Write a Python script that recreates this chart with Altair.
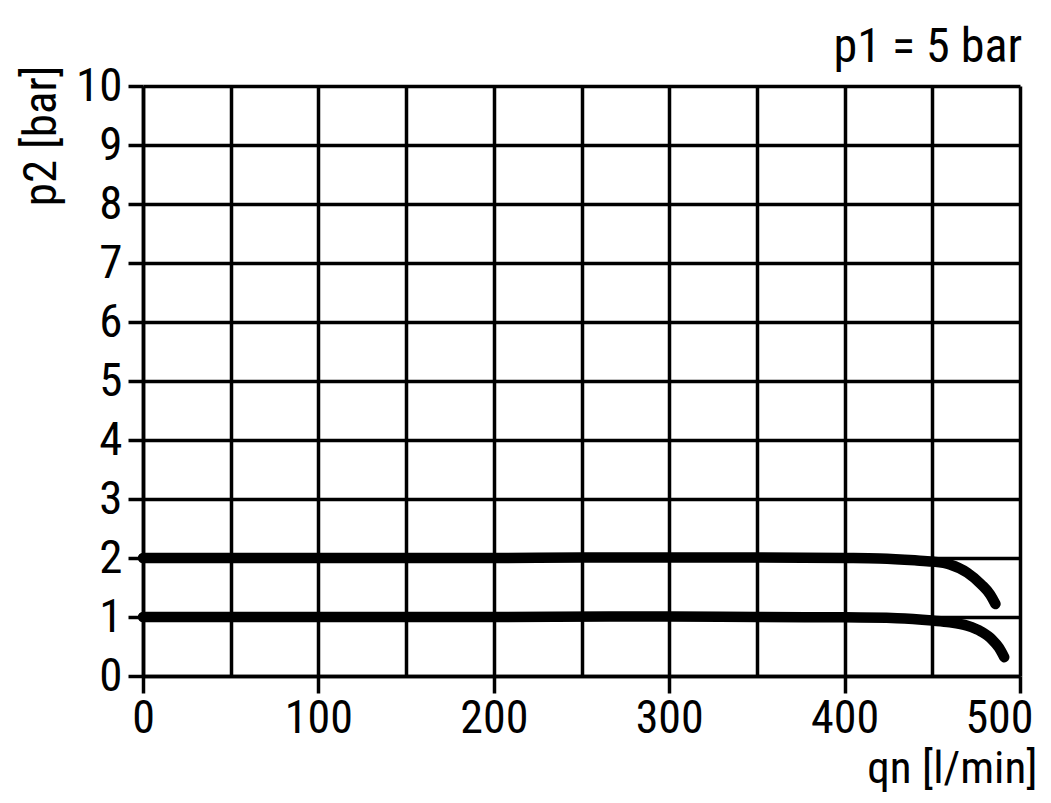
import altair as alt
import pandas as pd

# series: outlet pressure p2 vs flow qn at p1 = 5 bar
qn_2bar = [0, 100, 200, 250, 300, 350, 400, 420, 440, 450, 460, 470, 478, 483, 486]
p2_2bar = [2.0, 2.0, 2.0, 2.01, 2.01, 2.01, 2.0, 1.99, 1.96, 1.94, 1.89, 1.75, 1.55, 1.38, 1.22]

qn_1bar = [0, 100, 200, 270, 300, 350, 400, 430, 450, 460, 470, 478, 484, 488, 491]
p2_1bar = [1.0, 1.0, 1.0, 1.01, 1.01, 1.0, 0.995, 0.98, 0.94, 0.91, 0.85, 0.75, 0.62, 0.48, 0.32]

x_grid_values = [0, 50, 100, 150, 200, 250, 300, 350, 400, 450, 500]
y_values = [0, 1, 2, 3, 4, 5, 6, 7, 8, 9, 10]

rows = []
for q, p in zip(qn_2bar, p2_2bar):
    rows.append({"qn": q, "p2": p, "set": "2 bar"})
for q, p in zip(qn_1bar, p2_1bar):
    rows.append({"qn": q, "p2": p, "set": "1 bar"})
df = pd.DataFrame(rows)

FONT = "Liberation Sans Narrow, Arial Narrow, Roboto Condensed, DejaVu Sans Condensed, sans-serif"

chart = alt.Chart(df).mark_line(
    color="black", strokeWidth=10.5, strokeCap="round", strokeJoin="round", interpolate="monotone"
).encode(
    x=alt.X("qn:Q", scale=alt.Scale(domain=[0, 500], nice=False, zero=True),
            axis=alt.Axis(values=x_grid_values, grid=True, gridColor="black", gridWidth=3.5,
                          gridOpacity=1, domainColor="black", domainWidth=3.5,
                          tickColor="black", tickWidth=3.5, tickSize=17,
                          tickOpacity={"condition": {"test": "datum.value % 100 === 0", "value": 1}, "value": 0},
                          labelExpr="datum.value % 100 === 0 ? datum.label : ''",
                          labelAlign={"condition": {"test": "datum.value === 500", "value": "right"}, "value": "center"},
                          labelOffset={"condition": {"test": "datum.value === 500", "value": 13}, "value": 0},
                          labelFont=FONT, labelFontSize=46, labelColor="black", labelPadding=3,
                          labelFlush=False, labelOverlap=False,
                          title="qn [l/min]", titleFont=FONT, titleFontSize=45,
                          titleFontWeight="normal", titleColor="black",
                          titleAlign="right", titleAnchor="end", titleX=894, titleY=106,
                          titleBaseline="alphabetic")),
    y=alt.Y("p2:Q", scale=alt.Scale(domain=[0, 10], nice=False),
            axis=alt.Axis(values=y_values, grid=True, gridColor="black", gridWidth=3.5,
                          gridOpacity=1, domainColor="black", domainWidth=3.5,
                          tickColor="black", tickWidth=3.5, tickSize=15,
                          labelFont=FONT, labelFontSize=47, labelColor="black", labelPadding=6,
                          labelFlush=False, labelOverlap=False,
                          title="p2 [bar]", titleFont=FONT, titleFontSize=47,
                          titleFontWeight="normal", titleColor="black",
                          titleAngle=270, titleAlign="right", titleX=-88, titleY=-21,
                          titleBaseline="alphabetic")),
    detail="set:N",
).properties(
    width=877, height=590,
    title=alt.TitleParams("p1 = 5 bar", anchor="end", font=FONT, fontSize=48,
                          fontWeight="normal", color="black", frame="group", offset=14,
                          dy=24, dx=2),
    autosize=alt.AutoSizeParams(type="none"),
    padding={"left": 135, "top": 78, "right": 23, "bottom": 118},
).configure_view(stroke=None)

chart.save("out.html", embed_options={"renderer": "svg", "actions": False})
